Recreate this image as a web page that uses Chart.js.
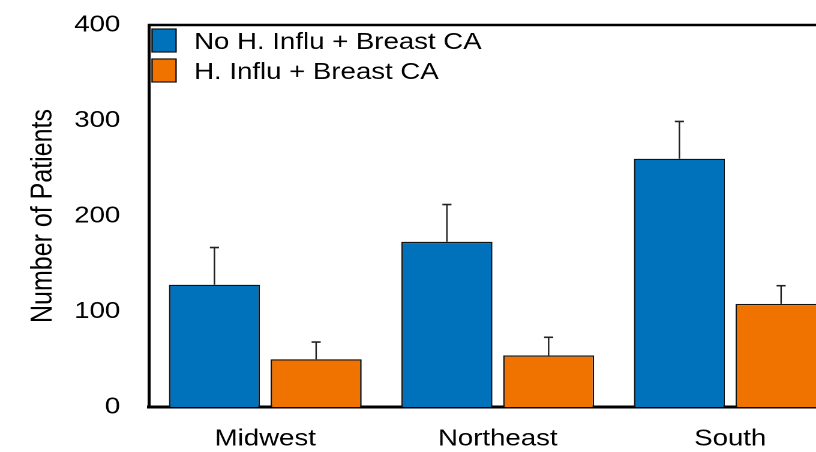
<!DOCTYPE html>
<html>
<head>
<meta charset="utf-8">
<script src="https://cdn.jsdelivr.net/npm/chart.js@4"></script>
<style>
  html, body { margin: 0; padding: 0; background: #fff; overflow: hidden; width: 816px; height: 452px; }
  /* source image is drawn horizontally wide; layout in 720 logical px, shown at 1.2x */
  #wrap { position: absolute; left: 0; top: 0; width: 720px; height: 452px; transform: scaleX(1.2); transform-origin: 0 0; }
</style>
</head>
<body>
<div id="wrap"><canvas id="c-regions"></canvas></div>
<script>
const REGIONS     = ['Midwest', 'Northeast', 'South'];
const NO_FLU      = [128, 173, 260];
const NO_FLU_ERR  = [39, 39, 39];
const FLU         = [50, 54, 108];
const FLU_ERR     = [18, 19, 19];
const Y_TICKS     = [0, 100, 200, 300, 400];
const SERIES      = ['No H. Influ + Breast CA', 'H. Influ + Breast CA'];
const COLORS      = ['#0071BB', '#F07300'];

Chart.defaults.font.family = '"Liberation Sans", Arial, Helvetica, sans-serif';
Chart.defaults.color = '#000';

// one-sided (upper) error bars, positioned from the bar elements and y scale
const errorBars = {
  id: 'errorBars',
  afterDatasetsDraw(chart) {
    const { ctx, scales: { y } } = chart;
    ctx.save();
    ctx.strokeStyle = '#222';
    chart.data.datasets.forEach((ds, i) => {
      chart.getDatasetMeta(i).data.forEach((bar, j) => {
        const top = y.getPixelForValue(ds.data[j] + ds.errors[j]);
        ctx.lineWidth = 1.25;
        ctx.beginPath(); ctx.moveTo(bar.x, bar.y); ctx.lineTo(bar.x, top); ctx.stroke();
        ctx.lineWidth = 1.6;
        ctx.beginPath(); ctx.moveTo(bar.x - 3.8, top); ctx.lineTo(bar.x + 3.8, top); ctx.stroke();
      });
    });
    ctx.restore();
  }
};

// box frame: top and right edges (left/bottom come from the axes)
const frame = {
  id: 'frame',
  afterDraw(chart) {
    const { ctx, chartArea: a } = chart;
    ctx.save();
    ctx.strokeStyle = '#000';
    ctx.lineWidth = 2.5;
    ctx.beginPath();
    ctx.moveTo(a.left - 1, a.top); ctx.lineTo(a.right, a.top); ctx.lineTo(a.right, a.bottom);
    ctx.stroke();
    ctx.restore();
  }
};

// legend inside the plot, top-left
const innerLegend = {
  id: 'innerLegend',
  afterDraw(chart) {
    const { ctx, chartArea: a } = chart;
    ctx.save();
    ctx.font = '23px "Liberation Sans", Arial, sans-serif';
    ctx.textBaseline = 'middle';
    chart.data.datasets.forEach((ds, i) => {
      const bx = a.left + 2.5, by = a.top + 4 + i * 30;
      ctx.fillStyle = ds.backgroundColor;
      ctx.fillRect(bx, by, 20, 23);
      ctx.lineWidth = 1.2;
      ctx.strokeStyle = '#111';
      ctx.strokeRect(bx, by, 20, 23);
      ctx.fillStyle = '#000';
      ctx.fillText(ds.label, bx + 35, by + 13.5);
    });
    ctx.restore();
  }
};

const noPad = s => { s.paddingTop = 0; s.paddingBottom = 0; s.paddingLeft = 0; s.paddingRight = 0; };

new Chart(document.getElementById('c-regions'), {
  type: 'bar',
  data: {
    labels: REGIONS,
    datasets: [
      { label: SERIES[0], data: NO_FLU, errors: NO_FLU_ERR, backgroundColor: COLORS[0] },
      { label: SERIES[1], data: FLU,    errors: FLU_ERR,    backgroundColor: COLORS[1] },
    ].map(d => Object.assign(d, {
      borderColor: '#111', borderWidth: 1.3,
      categoryPercentage: 0.875, barPercentage: 0.895,
    })),
  },
  options: {
    responsive: true,
    maintainAspectRatio: false,
    animation: false,
    devicePixelRatio: 2,
    layout: { padding: { top: 25, right: 14.6, left: 0, bottom: 0 } },
    plugins: { legend: { display: false }, tooltip: { enabled: false } },
    scales: {
      x: {
        grid: { display: false, drawTicks: false },
        border: { display: true, color: '#000', width: 3 },
        ticks: { font: { size: 23 }, padding: 18.5, color: '#000' },
        afterFit: s => { s.height = 45; noPad(s); },
      },
      y: {
        min: 0, max: 400,
        afterBuildTicks: s => { s.ticks = Y_TICKS.map(v => ({ value: v })); },
        grid: { display: false, drawTicks: false },
        border: { display: true, color: '#000', width: 2.5 },
        ticks: { font: { size: 23 }, padding: 24, color: '#000' },
        title: { display: true, text: 'Number of Patients', font: { size: 25 }, padding: { top: 21, bottom: 0 }, color: '#000' },
        afterFit: s => { s.width = 124.2; noPad(s); },
      },
    },
  },
  plugins: [errorBars, frame, innerLegend],
});
</script>
</body>
</html>
